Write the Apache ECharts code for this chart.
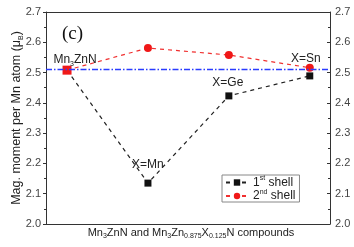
<!DOCTYPE html>
<html><head><meta charset="utf-8">
<script src="https://cdn.jsdelivr.net/npm/echarts@6/dist/echarts.min.js"></script>
<style>html,body{margin:0;padding:0;background:#fff}#c{width:354px;height:247px}</style>
</head><body><div id="c"></div>
<script>
var xPos = [1, 2, 3, 4];
var pointLabels = ['Mn3ZnN', 'X=Mn', 'X=Ge', 'X=Sn'];
var shell1 = [2.508, 2.135, 2.423, 2.489];
var shell2 = [2.508, 2.581, 2.558, 2.516];
var refValue = 2.508;
var yTicks = ['2.0', '2.1', '2.2', '2.3', '2.4', '2.5', '2.6', '2.7'];

var FONT = 'Liberation Sans, Arial, sans-serif';
var rich = {
  n: {fontSize: 12, fontFamily: FONT, color: '#222', lineHeight: 15, verticalAlign: 'middle'},
  s: {fontSize: 7, fontFamily: FONT, color: '#222', lineHeight: 15, verticalAlign: 'bottom', padding: [6, 0, 0, 0]},
  p: {fontSize: 7, fontFamily: FONT, color: '#222', lineHeight: 15, verticalAlign: 'top', padding: [0, 0, 6, 0]}
};
var richAx = {
  n: {fontSize: 11, fontFamily: FONT, color: '#222', lineHeight: 14, verticalAlign: 'middle'},
  s: {fontSize: 7, fontFamily: FONT, color: '#222', lineHeight: 14, verticalAlign: 'bottom', padding: [5, 0, 0, 0]}
};
var richY = {
  n: {fontSize: 12.5, fontFamily: FONT, fill: '#222', lineHeight: 15, verticalAlign: 'middle'},
  s: {fontSize: 7, fontFamily: FONT, fill: '#222', lineHeight: 15, verticalAlign: 'bottom', padding: [6, 0, 0, 0]}
};
function fmtName(t) {
  if (t === 'Mn3ZnN') return '{n|Mn}{s|3}{n|ZnN}';
  return '{n|' + t + '}';
}
function pairs(vals) { return vals.map(function (v, i) { return [xPos[i], v]; }); }

var d1 = pairs(shell1).map(function (p, i) {
  var o = {value: p};
  if (i === 1) o.label = {show: true, position: 'top', distance: 7, formatter: fmtName(pointLabels[1]), rich: rich};
  if (i === 2) o.label = {show: true, position: 'top', distance: 2, offset: [-1, 0], formatter: fmtName(pointLabels[2]), rich: rich};
  return o;
});
var d2 = pairs(shell2).map(function (p, i) {
  var o = {value: p};
  if (i === 0) { o.symbol = 'rect'; o.symbolSize = 9;
    o.label = {show: true, position: 'top', distance: -2, offset: [8, 0], formatter: fmtName(pointLabels[0]), rich: rich}; }
  if (i === 3) o.label = {show: true, position: 'top', distance: -2, offset: [-4, 0], formatter: fmtName(pointLabels[3]), rich: rich};
  return o;
});

var chart = echarts.init(document.getElementById('c'), null, {renderer: 'canvas'});
chart.setOption({
  animation: false,
  textStyle: {fontFamily: FONT},
  grid: {left: 46, right: 24, top: 12, bottom: 23, containLabel: false, outerBoundsMode: 'none'},
  xAxis: [{
    type: 'value', min: 0.74, max: 4.25, position: 'bottom',
    axisLine: {show: true, lineStyle: {color: '#333', width: 1}},
    axisTick: {show: false}, axisLabel: {show: false}, splitLine: {show: false},
    name: '{n|Mn}{s|3}{n|ZnN and Mn}{s|3}{n|Zn}{s|0.875}{n|X}{s|0.125}{n|N compounds}',
    nameLocation: 'middle', nameGap: 2,
    nameTextStyle: {rich: richAx, padding: [0, 0, 0, 6]}
  }, {
    type: 'value', min: 0.74, max: 4.25, position: 'top',
    axisLine: {show: true, lineStyle: {color: '#333', width: 1}},
    axisTick: {show: false}, axisLabel: {show: false}, splitLine: {show: false}
  }],
  yAxis: [{
    type: 'value', min: 2.0, max: 2.7, interval: 0.1, position: 'left',
    axisLine: {show: true, lineStyle: {color: '#333', width: 1}},
    axisTick: {show: true, inside: false, length: 3, lineStyle: {color: '#333'}},
    minorTick: {show: true, splitNumber: 2, length: 2, lineStyle: {color: '#333'}},
    splitLine: {show: false},
    axisLabel: {margin: 5, fontSize: 11, color: '#444', fontFamily: FONT,
      formatter: function (v) { return yTicks[Math.round((v - 2.0) * 10)]; }}
  }, {
    type: 'value', min: 2.0, max: 2.7, interval: 0.1, position: 'right',
    axisLine: {show: true, lineStyle: {color: '#333', width: 1}},
    axisTick: {show: true, inside: true, length: 3, lineStyle: {color: '#333'}},
    minorTick: {show: true, splitNumber: 2, length: 2, lineStyle: {color: '#333'}},
    splitLine: {show: false},
    axisLabel: {margin: 5, fontSize: 11, color: '#444', fontFamily: FONT,
      formatter: function (v) { return yTicks[Math.round((v - 2.0) * 10)]; }}
  }],
  legend: {
    left: 222, top: 175, orient: 'vertical',
    itemWidth: 22, itemHeight: 8, itemGap: 0,
    padding: [0, 4, 0, 3],
    borderColor: '#888', borderWidth: 1,
    textStyle: {rich: rich},
    formatter: function (n) {
      return n === '1st shell' ? '{n|1}{p|st}{n| shell}' : '{n|2}{p|nd}{n| shell}';
    },
    data: ['1st shell', '2nd shell']
  },
  graphic: [{
    type: 'text', left: 62, top: 25,
    style: {text: '(c)', font: '19px "Liberation Serif", "Times New Roman", serif', fill: '#111'}
  }, {
    type: 'text', x: 17, y: 118, rotation: Math.PI / 2,
    style: {text: '{n|Mag. moment per Mn atom (μ}{s|B}{n|)}', rich: richY,
      align: 'center', verticalAlign: 'middle', fill: '#222'}
  }],
  series: [{
    name: '1st shell', type: 'line', data: d1,
    symbol: 'rect', symbolSize: 7,
    itemStyle: {color: '#111'},
    lineStyle: {color: '#222', width: 1.2, type: [4, 4]},
    z: 3
  }, {
    name: '2nd shell', type: 'line', data: d2,
    symbol: 'circle', symbolSize: 8,
    itemStyle: {color: '#f01818'},
    lineStyle: {color: '#f03030', width: 1.2, type: [4, 4]},
    z: 4,
    markLine: {
      silent: true, symbol: ['none', 'none'], label: {show: false},
      itemStyle: {color: '#2a3cff'},
      lineStyle: {color: '#2a3cff', width: 1.3, type: [6, 2, 1.5, 2], opacity: 1},
      data: [{yAxis: refValue, lineStyle: {color: '#2a3cff'}}]
    }
  }]
});
</script></body></html>
